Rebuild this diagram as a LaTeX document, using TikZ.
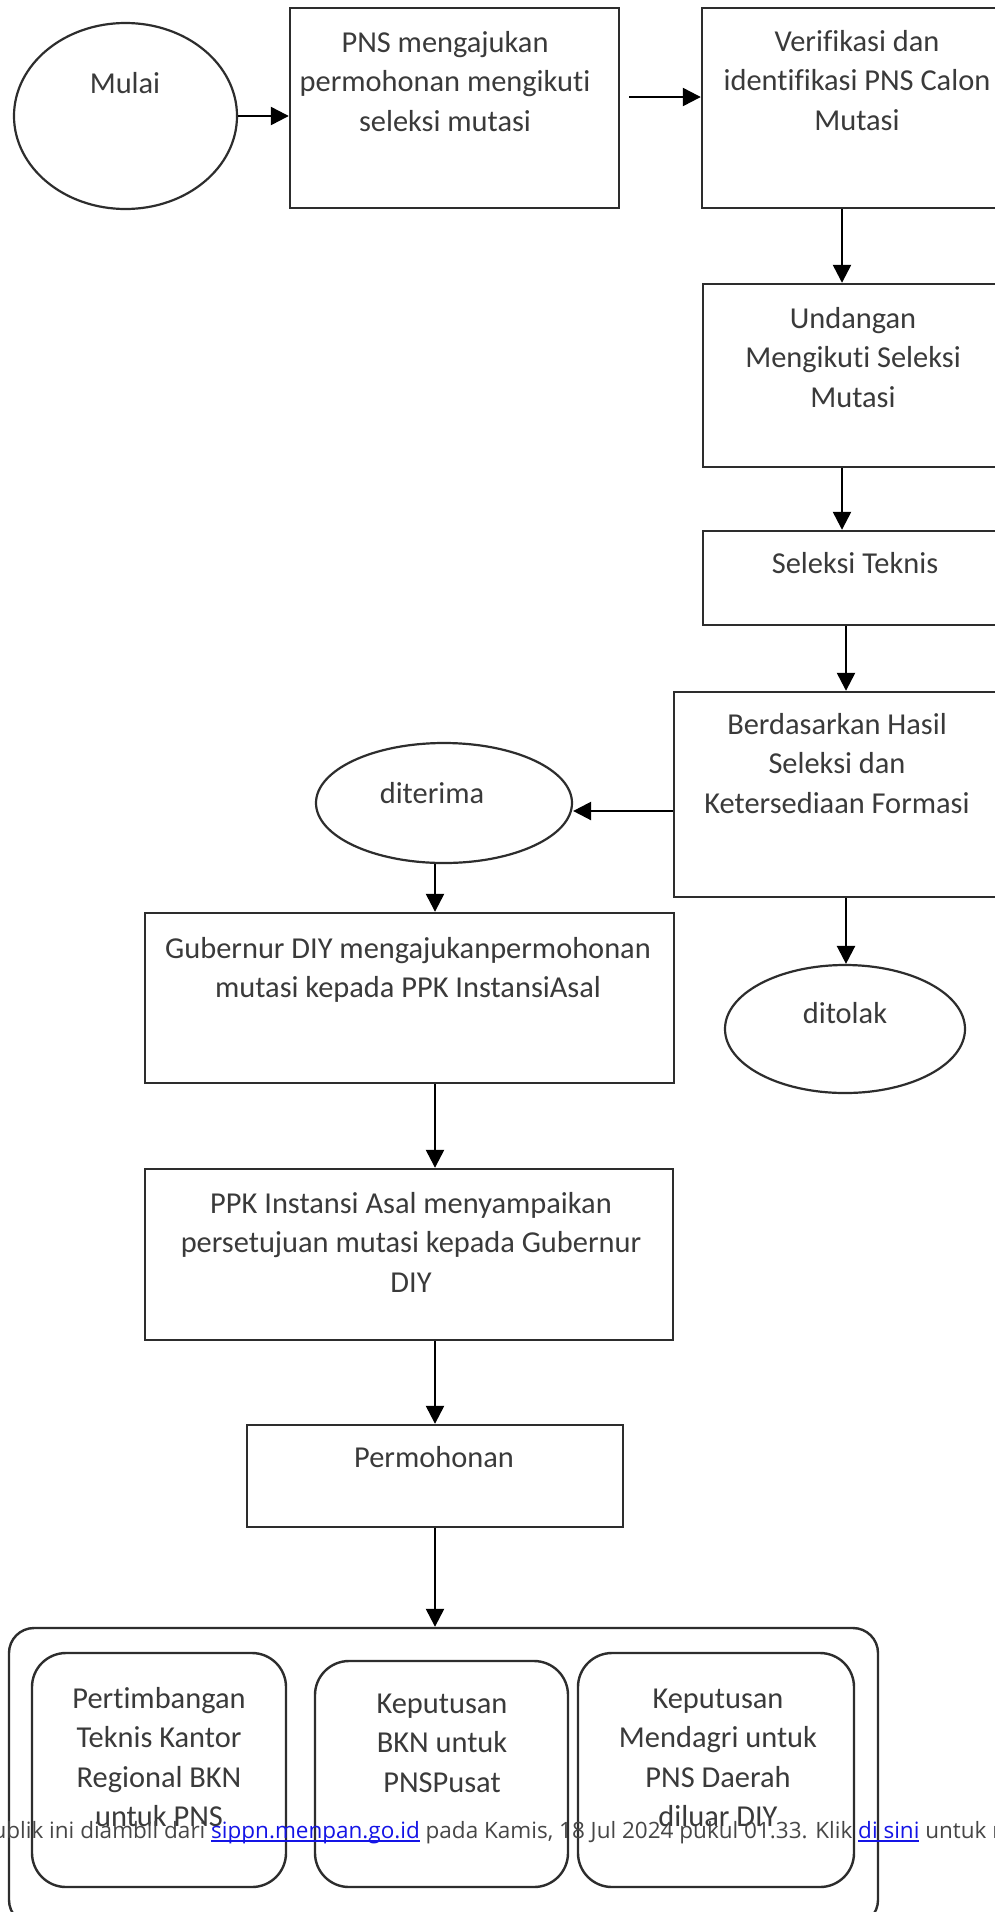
\documentclass[tikz,border=0pt]{standalone}
\usepackage{fontspec}
\setmainfont[Ligatures={NoCommon},Contextuals={NoAlternate}]{Carlito}
\newfontfamily\footfont{Open Sans}
\usetikzlibrary{arrows.meta,shapes.geometric}
\definecolor{boxline}{RGB}{45,45,45}
\definecolor{txtgray}{RGB}{58,58,58}
\definecolor{footgray}{RGB}{70,70,70}
\definecolor{linkblue}{RGB}{20,20,230}
\newcommand\mlines[1]{\begin{tabular}[t]{@{}c@{}}#1\end{tabular}}
\newcommand\lnk[1]{\textcolor{linkblue}{\setbox0\hbox{#1}\rlap{\rule[-3.5pt]{\wd0}{1.3pt}}\box0}}
\begin{document}
\begin{tikzpicture}[x=1pt,y=-1pt,
  box/.style={draw=boxline, line width=2.4pt, rectangle, inner sep=0pt},
  rbox/.style={box, rounded corners=34pt},
  oval/.style={draw=boxline, line width=2.2pt, ellipse, inner sep=0pt},
  txt/.style={text=txtgray, font=\fontsize{30.4}{39.5}\selectfont, inner sep=0pt, anchor=base},
  foot/.style={text=footgray, font=\footfont\fontsize{22.5}{27}\selectfont, inner sep=0pt, anchor=base west},
  arr/.style={draw=black, line width=2.4pt, -{Triangle[length=18pt,width=18pt]}}]
\fill[white] (0,0) rectangle (995,1912);
\useasboundingbox (0,0) rectangle (995,1912);
\clip (0,0) rectangle (995,1912);
% shapes
\node[oval, minimum width=223pt, minimum height=186pt] (mulai) at (125.5,116) {};
\node[box, minimum width=329pt, minimum height=200pt] (b1) at (454.5,108) {};
\node[box, minimum width=308pt, minimum height=200pt] (b2) at (856,108) {};
\node[box, minimum width=305pt, minimum height=183pt] (und) at (855.5,375.5) {};
\node[box, minimum width=305pt, minimum height=94pt] (sel) at (855.5,578) {};
\node[box, minimum width=326pt, minimum height=205pt] (berd) at (837,794.5) {};
\node[oval, minimum width=256pt, minimum height=120pt] (dit) at (444,803) {};
\node[oval, minimum width=240pt, minimum height=128pt] (tol) at (845,1029) {};
\node[box, minimum width=529pt, minimum height=170pt] (gub) at (409.5,998) {};
\node[box, minimum width=528pt, minimum height=171pt] (ppk) at (409,1254.5) {};
\node[box, minimum width=376pt, minimum height=102pt] (perm) at (435,1476) {};
\node[box, rounded corners=25pt, minimum width=869pt, minimum height=297pt] (outer) at (443.5,1776.5) {};
\node[rbox, minimum width=254pt, minimum height=234pt] (ba) at (159,1770) {};
\node[rbox, minimum width=253pt, minimum height=226pt] (bb) at (441.5,1774) {};
\node[rbox, minimum width=276pt, minimum height=234pt] (bc) at (716,1770) {};
% texts
\node[txt] (tmulai) at (125,93) {Mulai};
\node[txt] (tb1) at (445,52) {\mlines{PNS mengajukan\\permohonan mengikuti\\seleksi mutasi}};
\node[txt] (tb2) at (857,51) {\mlines{Verifikasi dan\\identifikasi PNS Calon\\Mutasi}};
\node[txt] (tund) at (853,328) {\mlines{Undangan\\Mengikuti Seleksi\\Mutasi}};
\node[txt] (tsel) at (855,573) {Seleksi Teknis};
\node[txt] (tberd) at (837,734) {\mlines{Berdasarkan Hasil\\Seleksi dan\\Ketersediaan Formasi}};
\node[txt] (tdit) at (432,803) {diterima};
\node[txt] (ttol) at (845,1023) {ditolak};
\node[txt] (tgub) at (408,958) {\mlines{Gubernur DIY mengajukanpermohonan\\mutasi kepada PPK InstansiAsal}};
\node[txt] (tppk) at (411,1213) {\mlines{PPK Instansi Asal menyampaikan\\persetujuan mutasi kepada Gubernur\\DIY}};
\node[txt] (tperm) at (434,1467) {Permohonan};
\node[txt] (ta) at (159,1708) {\mlines{Pertimbangan\\Teknis Kantor\\Regional BKN\\untuk PNS}};
\node[txt] (tbb) at (442,1713) {\mlines{Keputusan\\BKN untuk\\PNSPusat}};
\node[txt] (tc) at (718,1708) {\mlines{Keputusan\\Mendagri untuk\\PNS Daerah\\diluar DIY}};
% connectors
\coordinate (cR1) at (842,0);
\coordinate (cR2) at (846,0);
\coordinate (cL) at (435,0);
\coordinate (rD) at (0,811);
\draw[arr] (mulai.east) -- (mulai.east -| b1.west);
\draw[arr] ([shift={(9,-11)}]b1.east) -- ([shift={(0,-11)}]b2.west);
\draw[arr] (b2.south -| cR1) -- (und.north -| cR1);
\draw[arr] (und.south -| cR1) -- (sel.north -| cR1);
\draw[arr] (sel.south -| cR2) -- (berd.north -| cR2);
\draw[arr] (berd.west |- rD) -- (dit.east |- rD);
\draw[arr] (berd.south -| cR2) -- (tol.north -| cR2);
\draw[arr] (dit.south -| cL) -- (gub.north -| cL);
\draw[arr] (gub.south -| cL) -- (ppk.north -| cL);
\draw[arr] (ppk.south -| cL) -- (perm.north -| cL);
\draw[arr] (perm.south -| cL) -- (outer.north -| cL);
% footer overlay
\node[foot] (foot) at (211,1838) {\llap{ublik ini diambil dari }\lnk{sippn.menpan.go.id} pada Kamis, 18 Jul 2024 pukul 01.33. Klik \lnk{di sini} untuk me};
\end{tikzpicture}
\end{document}
